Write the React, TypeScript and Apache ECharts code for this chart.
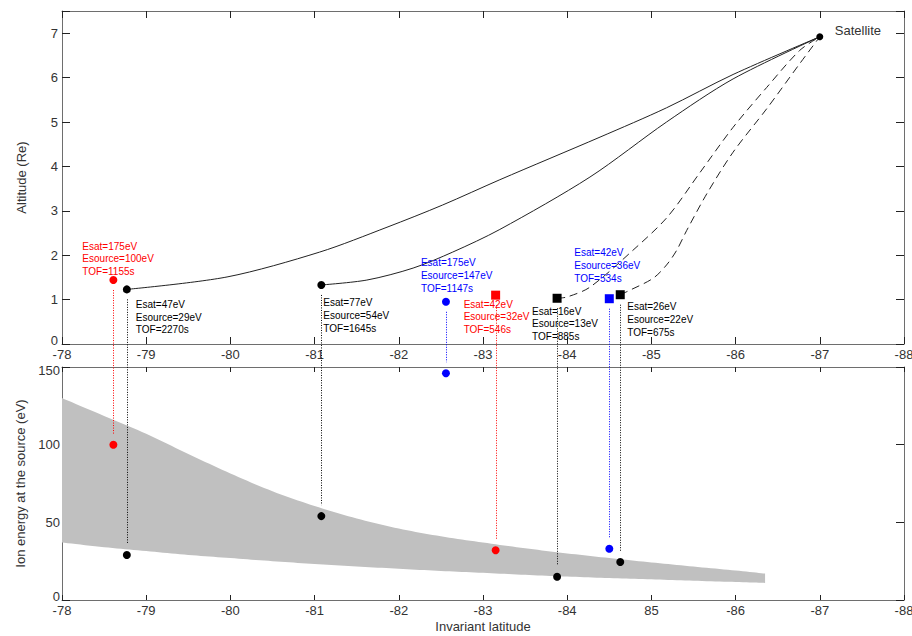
import React, { useEffect, useRef } from "react";
import * as echarts from "echarts";

// ---- data ----
const latTicks = [-78, -79, -80, -81, -82, -83, -84, -85, -86, -87, -88];

// field-line traces (invariant latitude, altitude Re)
const traceALat = [-78.77, -79.96, -81.06, -81.86, -82.52, -83.2, -84.39, -85.18, -85.97, -87.0];
const traceAAlt = [1.23, 1.51, 2.07, 2.63, 3.13, 3.7, 4.66, 5.32, 6.07, 6.92];
const traceBLat = [-81.08, -81.62, -82.17, -82.64, -83.2, -84.27, -85.18, -85.97, -87.0];
const traceBAlt = [1.33, 1.44, 1.71, 2.07, 2.58, 3.76, 5.0, 5.97, 6.92];
const traceCLat = [-83.88, -84.0, -84.27, -84.78, -85.19, -85.58, -85.97, -86.37, -86.76, -87.0];
const traceCAlt = [1.03, 1.06, 1.28, 2.11, 2.86, 3.87, 4.88, 5.78, 6.61, 6.92];
const traceDLat = [-84.63, -84.71, -85.02, -85.18, -85.3, -85.42, -85.66, -85.97, -86.37, -86.76, -87.0];
const traceDAlt = [1.11, 1.18, 1.48, 1.78, 2.11, 2.56, 3.39, 4.32, 5.3, 6.31, 6.92];

const satLat = -87.0;
const satAlt = 6.92;

// source points
const srcLat = [-78.61, -78.77, -81.08, -82.56, -83.15, -83.88, -84.5, -84.63];
const srcAlt = [1.44, 1.23, 1.33, 0.95, 1.1, 1.03, 1.02, 1.11];
const srcEnergy = [100, 29, 54, 146, 32, 15, 33, 24.5];
const labelEsat = [175, 47, 77, 175, 42, 16, 42, 26];
const labelEsource = [100, 29, 54, 147, 32, 13, 36, 22];
const labelTof = [1155, 2270, 1645, 1147, 546, 885, 534, 675];

// gray band of expected source energy
const bandLat = [-78, -78.5, -79, -79.5, -80, -80.5, -81, -81.5, -82, -82.5, -83, -83.5, -84, -84.5, -85, -85.5, -86, -86.35];
const bandUpper = [130, 118.5, 107, 94, 81.5, 70, 60.5, 52.5, 46, 41, 37, 33.3, 30, 27, 24.2, 21.5, 19, 17];
const bandLower = [37, 34, 31.5, 29, 27, 25, 23.2, 21.6, 20.1, 18.7, 17.5, 16.2, 15.1, 14.1, 13.3, 12.4, 11.6, 11];

// ---- styles ----
const srcColor = ["#ff0000", "#000000", "#000000", "#0000ff", "#ff0000", "#000000", "#0000ff", "#000000"];
const srcSymbol = ["circle", "circle", "circle", "circle", "rect", "rect", "rect", "rect"];
const labelOffset = [
  [-31, -34],
  [9, 15],
  [2, 18],
  [-25, -39],
  [-32, 9],
  [-25, 13],
  [-35, -46],
  [7, 12],
];

const FONT = '"Liberation Sans", Arial, Helvetica, sans-serif';
const AXIS_COLOR = "#6e6e6e";
const TEXT_COLOR = "#333333";

const zip = (a: number[], b: number[]) => a.map((v, i) => [v, b[i]]);

// Catmull-Rom resampling of pixel points (rendering only)
function spline(pts: number[][], steps = 10): number[][] {
  const out: number[][] = [];
  for (let i = 0; i < pts.length - 1; i++) {
    const p0 = pts[Math.max(0, i - 1)];
    const p1 = pts[i];
    const p2 = pts[i + 1];
    const p3 = pts[Math.min(pts.length - 1, i + 2)];
    for (let s = 0; s < steps; s++) {
      const t = s / steps;
      const t2 = t * t;
      const t3 = t2 * t;
      const f = (a: number, b: number, c: number, d: number) =>
        0.5 * (2 * b + (-a + c) * t + (2 * a - 5 * b + 4 * c - d) * t2 + (-a + 3 * b - 3 * c + d) * t3);
      out.push([f(p0[0], p1[0], p2[0], p3[0]), f(p0[1], p1[1], p2[1], p3[1])]);
    }
  }
  out.push(pts[pts.length - 1]);
  return out;
}

function buildOption(): any {
  const labelStyle = { color: TEXT_COLOR, fontSize: 13, fontFamily: FONT };
  const nameStyle = { color: TEXT_COLOR, fontSize: 13, fontFamily: FONT };
  const edgeRich = {
    lo: { ...labelStyle, padding: [0, 0, 8, 0] },
    hi: { ...labelStyle, padding: [6, 0, 0, 0] },
  };
  const baseX = (grid: number, tickLen: number, extra: any) => ({
    type: "value",
    gridIndex: grid,
    min: -88,
    max: -78,
    interval: 1,
    inverse: true,
    splitLine: { show: false },
    axisLine: { show: true, onZero: false, lineStyle: { color: AXIS_COLOR, width: 1 } },
    axisTick: { show: true, inside: true, length: tickLen, lineStyle: { color: "#222" } },
    ...extra,
  });
  const baseY = (grid: number, min: number, max: number, interval: number, extra: any) => ({
    type: "value",
    gridIndex: grid,
    min,
    max,
    interval,
    splitLine: { show: false },
    axisLine: { show: true, onZero: false, lineStyle: { color: AXIS_COLOR, width: 1 } },
    axisTick: { show: true, inside: true, length: 8, lineStyle: { color: "#222" } },
    ...extra,
  });
  const lineSeries = (lat: number[], alt: number[], dashed: boolean) => ({
    type: "line",
    xAxisIndex: 0,
    yAxisIndex: 0,
    data: zip(lat, alt),
    showSymbol: false,
    smooth: 0.3,
    lineStyle: { color: "#222", width: 1, type: dashed ? [8, 5] : "solid" },
    silent: true,
  });

  return {
    animation: false,
    backgroundColor: "#ffffff",
    textStyle: { fontFamily: FONT },
    grid: [
      { left: 62, top: 11, width: 842, height: 333, containLabel: false, outerBoundsMode: "none" },
      { left: 62, top: 367, width: 842, height: 233, containLabel: false, outerBoundsMode: "none" },
    ],
    xAxis: [
      baseX(0, 7, {
        position: "bottom",
        axisLabel: { ...labelStyle, margin: 4, formatter: (v: number) => String(v) },
      }),
      baseX(0, 7, { position: "top", axisLabel: { show: false } }),
      baseX(1, 5, {
        position: "bottom",
        name: "Invariant latitude",
        nameLocation: "middle",
        nameGap: 20,
        nameTextStyle: { ...nameStyle },
        axisLabel: {
          ...labelStyle,
          margin: 4,
          formatter: (v: number) => (v === -85 ? "85" : String(v)),
        },
      }),
      baseX(1, 5, { position: "top", axisLabel: { show: false } }),
    ],
    yAxis: [
      baseY(0, 0, 7.5, 1, {
        position: "left",
        name: "Altitude (Re)",
        nameLocation: "middle",
        nameGap: 34,
        nameTextStyle: { ...nameStyle },
        axisLabel: {
          ...labelStyle,
          margin: 4,
          rich: edgeRich,
          formatter: (v: number) => (v === 0 ? "{lo|0}" : Number.isInteger(v) ? String(v) : ""),
        },
      }),
      baseY(0, 0, 7.5, 1, { position: "right", axisLabel: { show: false } }),
      baseY(1, 0, 150, 50, {
        position: "left",
        name: "Ion energy at the source (eV)",
        nameLocation: "middle",
        nameGap: 33,
        nameTextStyle: { ...nameStyle },
        axisLabel: {
          ...labelStyle,
          margin: 2,
          rich: edgeRich,
          formatter: (v: number) => (v === 0 ? "{lo|0}" : v === 150 ? "{hi|150}" : String(v)),
        },
      }),
      baseY(1, 0, 150, 50, { position: "right", axisLabel: { show: false } }),
    ],
    series: [
      lineSeries(traceALat, traceAAlt, false),
      lineSeries(traceBLat, traceBAlt, false),
      lineSeries(traceCLat, traceCAlt, true),
      lineSeries(traceDLat, traceDAlt, true),
      {
        type: "scatter",
        xAxisIndex: 0,
        yAxisIndex: 0,
        z: 5,
        data: srcLat.map((lat, i) => ({
          value: [lat, srcAlt[i]],
          symbol: srcSymbol[i],
          symbolSize: srcSymbol[i] === "rect" ? 9 : 8,
          itemStyle: { color: srcColor[i], opacity: 1 },
        })),
        silent: true,
      },
      {
        type: "scatter",
        xAxisIndex: 0,
        yAxisIndex: 0,
        z: 5,
        data: [[satLat, satAlt]],
        symbol: "circle",
        symbolSize: 7,
        itemStyle: { color: "#000", opacity: 1 },
        silent: true,
      },
      {
        type: "custom",
        xAxisIndex: 2,
        yAxisIndex: 2,
        z: 1,
        data: [[bandLat[0], bandLower[0]]],
        silent: true,
        renderItem: (params: any, api: any) => {
          const upper = spline(bandLat.map((x, i) => api.coord([x, bandUpper[i]])));
          const lower = spline(bandLat.map((x, i) => api.coord([x, bandLower[i]]))).reverse();
          return {
            type: "polygon",
            shape: { points: upper.concat(lower) },
            style: { fill: "#c0c0c0", stroke: "none" },
          };
        },
      },
      {
        type: "scatter",
        xAxisIndex: 2,
        yAxisIndex: 2,
        z: 5,
        data: srcLat.map((lat, i) => ({
          value: [lat, srcEnergy[i]],
          itemStyle: { color: srcColor[i], opacity: 1 },
        })),
        symbol: "circle",
        symbolSize: 8,
        silent: true,
      },
    ],
  };
}

export default function App() {
  const ref = useRef<HTMLDivElement>(null);
  useEffect(() => {
    if (!ref.current) return;
    const chart = echarts.init(ref.current, null, { renderer: "svg" });
    chart.setOption(buildOption());

    const graphics: any[] = [];
    srcLat.forEach((lat, i) => {
      const top = chart.convertToPixel({ seriesIndex: 4 }, [lat, srcAlt[i]]) as number[];
      const bot = chart.convertToPixel({ seriesIndex: 7 }, [lat, srcEnergy[i]]) as number[];
      const x = Math.round(top[0]) + 0.5;
      graphics.push({
        type: "line",
        silent: true,
        z: 1,
        shape: { x1: x, y1: top[1] + 10, x2: x, y2: bot[1] - 11 },
        style: { stroke: srcColor[i], lineWidth: 1, lineDash: [1, 1.5] },
      });
      const [dx, dy] = labelOffset[i];
      graphics.push({
        type: "text",
        silent: true,
        z: 10,
        x: top[0] + dx,
        y: top[1] + dy - 6.35,
        style: {
          text: `Esat=${labelEsat[i]}eV\nEsource=${labelEsource[i]}eV\nTOF=${labelTof[i]}s`,
          fill: srcColor[i],
          font: `10px ${FONT}`,
          lineHeight: 12.7,
          align: "left",
          verticalAlign: "top",
        },
      });
    });
    const sat = chart.convertToPixel({ seriesIndex: 5 }, [satLat, satAlt]) as number[];
    graphics.push({
      type: "text",
      silent: true,
      z: 10,
      x: sat[0] + 15,
      y: sat[1] - 6,
      style: {
        text: "Satellite",
        fill: TEXT_COLOR,
        font: `13px ${FONT}`,
        align: "left",
        verticalAlign: "middle",
      },
    });
    chart.setOption({ graphic: graphics });

    return () => chart.dispose();
  }, []);
  return (
    <div
      ref={ref}
      style={{ position: "fixed", left: 0, top: 0, width: 912, height: 636, background: "#fff" }}
    />
  );
}
